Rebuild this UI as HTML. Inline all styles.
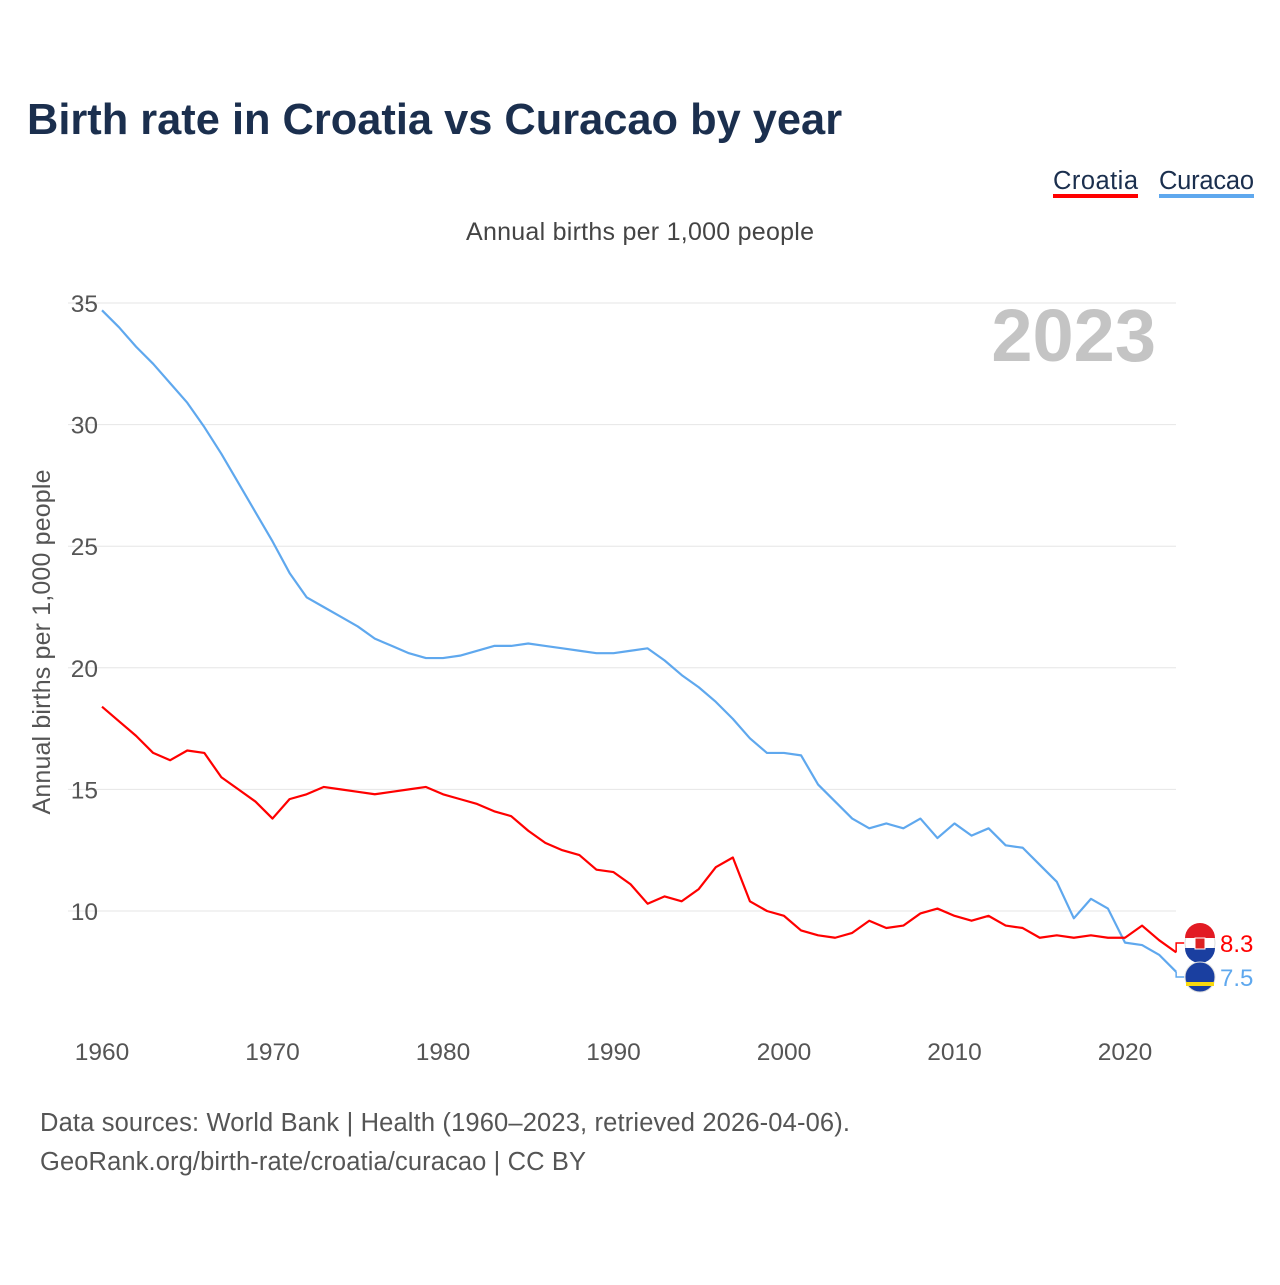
<!DOCTYPE html>
<html><head><meta charset="utf-8"><style>
body{margin:0;background:#fff;font-family:"Liberation Sans",sans-serif;}
svg text{font-family:"Liberation Sans",sans-serif;}
</style></head><body>
<svg width="1280" height="1280" xmlns="http://www.w3.org/2000/svg">
<text x="27" y="134" font-size="43.4" font-weight="bold" fill="#1b2f4e">Birth rate in Croatia vs Curacao by year</text>
<g>
<g><text x="1053" y="189" font-size="25.5" fill="#1b2f4e" textLength="85">Croatia</text><rect x="1053" y="194" width="85" height="4" fill="#ff0000"/></g>
<g><text x="1159" y="189" font-size="25.5" fill="#1b2f4e" textLength="95">Curacao</text><rect x="1159" y="194" width="95" height="4" fill="#5fa8ee"/></g>
</g>
<text x="640" y="240" font-size="25" fill="#444" text-anchor="middle" textLength="348">Annual births per 1,000 people</text>
<text x="1156" y="361" font-size="74" font-weight="bold" fill="#c4c4c4" text-anchor="end">2023</text>
<text transform="translate(50,642) rotate(-90)" font-size="25" fill="#555" text-anchor="middle" textLength="345">Annual births per 1,000 people</text>
<g id="grid"></g><g id="yt"></g><g id="xt"></g><g id="lines"></g><g id="ends"></g>
<text x="40" y="1131" font-size="25.5" fill="#555" textLength="810">Data sources: World Bank | Health (1960–2023, retrieved 2026-04-06).</text>
<text x="40" y="1170" font-size="25.5" fill="#555" textLength="546">GeoRank.org/birth-rate/croatia/curacao | CC BY</text>
</svg>
<script>
const years=[];for(let y=1960;y<=2023;y++)years.push(y);
const croatia=[18.4,17.8,17.2,16.5,16.2,16.6,16.5,15.5,15.0,14.5,13.8,14.6,14.8,15.1,15.0,14.9,14.8,14.9,15.0,15.1,14.8,14.6,14.4,14.1,13.9,13.3,12.8,12.5,12.3,11.7,11.6,11.1,10.3,10.6,10.4,10.9,11.8,12.2,10.4,10.0,9.8,9.2,9.0,8.9,9.1,9.6,9.3,9.4,9.9,10.1,9.8,9.6,9.8,9.4,9.3,8.9,9.0,8.9,9.0,8.9,8.9,9.4,8.8,8.3];
const curacao=[34.7,34.0,33.2,32.5,31.7,30.9,29.9,28.8,27.6,26.4,25.2,23.9,22.9,22.5,22.1,21.7,21.2,20.9,20.6,20.4,20.4,20.5,20.7,20.9,20.9,21.0,20.9,20.8,20.7,20.6,20.6,20.7,20.8,20.3,19.7,19.2,18.6,17.9,17.1,16.5,16.5,16.4,15.2,14.5,13.8,13.4,13.6,13.4,13.8,13.0,13.6,13.1,13.4,12.7,12.6,11.9,11.2,9.7,10.5,10.1,8.7,8.6,8.2,7.5];
const yTicks=[10,15,20,25,30,35];
const xTicks=[1960,1970,1980,1990,2000,2010,2020];
const NS="http://www.w3.org/2000/svg";
const X=y=>102+(y-1960)*(1125-102)/60;
const Y=v=>911-(v-10)*(911-303)/25;
function mk(t,a,p){const e=document.createElementNS(NS,t);for(const k in a)e.setAttribute(k,a[k]);p.appendChild(e);return e;}
const g=document.getElementById('grid'),yt=document.getElementById('yt'),xt=document.getElementById('xt');
yTicks.forEach(v=>{const l=mk('line',{x1:68,x2:1176,y1:Y(v),y2:Y(v),stroke:'#e6e6e6','stroke-width':1},g);


const t=mk('text',{x:98,y:Y(v)+9,'font-size':24.5,fill:'#555','text-anchor':'end'},yt);t.textContent=v;

});
xTicks.forEach(v=>{const t=mk('text',{x:X(v),y:1060,'font-size':24.5,fill:'#555','text-anchor':'middle'},xt);t.textContent=v;

});
const L=document.getElementById('lines');
[[curacao,'#5fa8ee','line-curacao'],[croatia,'#ff0000','line-croatia']].forEach(([d,c,n])=>{
const p=mk('polyline',{points:d.map((v,i)=>X(years[i])+','+Y(v)).join(' '),fill:'none',stroke:c,'stroke-width':2.2,'stroke-linejoin':'round'},L);

});
const E=document.getElementById('ends');
const lx=X(2023);
[[croatia,'#ff0000',943,'croatia'],[curacao,'#5fa8ee',977,'curacao']].forEach(([d,c,ly,n])=>{
const v=d[d.length-1];
mk('polyline',{points:`${lx},${Y(v)} ${lx},${ly} ${lx+8},${ly}`,fill:'none',stroke:c,'stroke-width':1.5},E);
const f=mk('circle',{cx:1200,cy:ly,r:15,fill:n=='croatia'?'#fff':'#1a3fa0',stroke:'#ddd'},E);


if(n=='croatia'){mk('path',{d:`M1185,${ly-5} A15,15 0 0 1 1215,${ly-5} Z`,fill:'#e21b23'},E);mk('path',{d:`M1185,${ly+5} A15,15 0 0 0 1215,${ly+5} Z`,fill:'#1a3fa0'},E);mk('rect',{x:1195,y:ly-5,width:10,height:11,fill:'#d22',stroke:'#fff','stroke-width':1},E);}
else{mk('rect',{x:1186,y:ly+5,width:28,height:4,fill:'#f9d90f'},E);}
const t=mk('text',{x:1220,y:ly+9,'font-size':24,fill:c},E);t.textContent=v.toFixed(1);

});
</script>
</body></html>
